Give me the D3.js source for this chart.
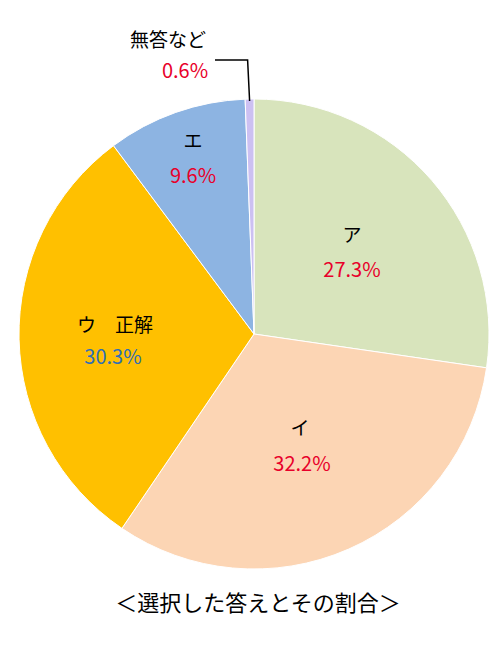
<!DOCTYPE html>
<html><head><meta charset="utf-8">
<script src="https://cdn.jsdelivr.net/npm/d3@7"></script>
<style>body{margin:0;background:#fff}text{font-family:"Noto Sans CJK JP",sans-serif}</style>
</head><body><svg id="c" width="501" height="660"></svg>
<script>
const categories = ["ア","イ","ウ　正解","エ","無答など"];
const values = [27.3,32.2,30.3,9.6,0.6];
const colors = ["#d8e4bc","#fcd5b4","#ffc000","#8db4e2","#ccc0f2"];
const pctColors = ["#e8002a","#e8002a","#2f6eb5","#e8002a","#e8002a"];
const labelPos = [[352,237],[300,430],[115,327],[193,143],[168,42]];
const pctPos = [[352,272],[302,466],[113,359],[193,178],[185,73]];
const title = "＜選択した答えとその割合＞";

const svg = d3.select("#c");
const cx=254, cy=334, r=235;
const pie = d3.pie().sort(null).value(d=>d)(values);
const arc = d3.arc().innerRadius(0).outerRadius(r);
const g = svg.append("g").attr("transform",`translate(${cx},${cy})`);
g.selectAll("path").data(pie).join("path").attr("d",arc)
 .attr("fill",(d,i)=>colors[i]).attr("stroke","#fff").attr("stroke-width",1);
// leader line for small slice
const a = (pie[4].startAngle+pie[4].endAngle)/2;
const px = cx + Math.sin(a)*(r-2), py = cy - Math.cos(a)*(r-2);
svg.append("polyline").attr("points",`${px},${py} ${px-2},60 215,60`)
 .attr("fill","none").attr("stroke","#000").attr("stroke-width",1.5);
categories.forEach((c,i)=>{
  svg.append("text").attr("x",labelPos[i][0]).attr("y",labelPos[i][1]).attr("text-anchor","middle")
   .attr("dominant-baseline","middle").attr("font-size",19).attr("fill","#000").text(c);
  svg.append("text").attr("x",pctPos[i][0]).attr("y",pctPos[i][1]).attr("text-anchor","middle")
   .attr("dominant-baseline","middle").attr("font-size",20).attr("fill",pctColors[i]).text(values[i].toFixed(1)+"%");
});
svg.append("text").attr("x",258).attr("y",605).attr("text-anchor","middle").attr("dominant-baseline","middle")
 .attr("font-size",22).attr("fill","#000").text(title);
</script></body></html>
